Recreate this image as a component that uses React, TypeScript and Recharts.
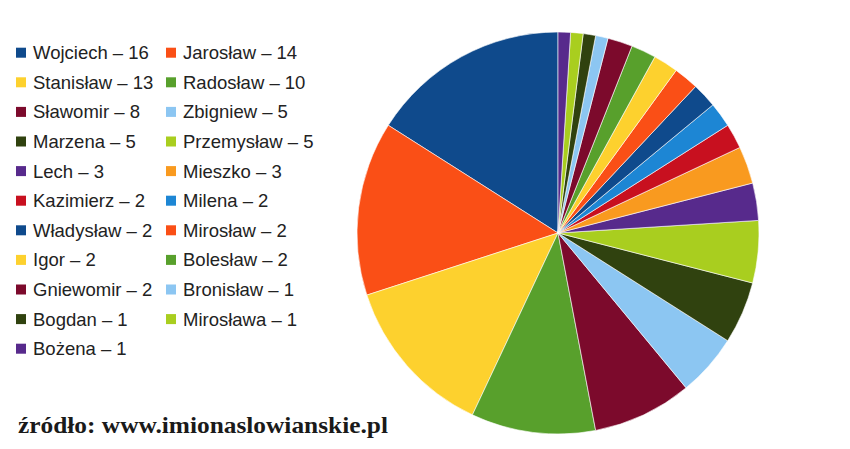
import React from "react";
import { PieChart, Pie, Cell } from "recharts";

const names = [
  "Wojciech", "Jarosław", "Stanisław", "Radosław", "Sławomir", "Zbigniew",
  "Marzena", "Przemysław", "Lech", "Mieszko", "Kazimierz", "Milena",
  "Władysław", "Mirosław", "Igor", "Bolesław", "Gniewomir", "Bronisław",
  "Bogdan", "Mirosława", "Bożena",
];
const values = [16, 14, 13, 10, 8, 5, 5, 5, 3, 3, 2, 2, 2, 2, 2, 2, 2, 1, 1, 1, 1];
const palette = [
  "#0F4A8C", "#FA4F16", "#FDD12E", "#58A02C", "#7C0A2C", "#8CC6F2",
  "#30420F", "#A9CE1F", "#572A8C", "#F99A1F", "#C8101F", "#1D86D4",
];
const sourceText = "źródło: www.imionaslowianskie.pl";

const data = names.map((n, i) => ({ name: n, value: values[i] }));

function LegendOverlay() {
  return (
    <svg width={400} height={449} style={{ position: "absolute", left: 0, top: 0 }}>
      {data.map((d, i) => {
        const col = i % 2;
        const row = Math.floor(i / 2);
        const x = col === 0 ? 16 : 166;
        const y = 52.7 + row * 29.6;
        return (
          <g key={d.name}>
            <rect x={x} y={y - 5} width={10} height={10} fill={palette[i % palette.length]} />
            <text
              x={x + 17}
              y={y}
              dominantBaseline="central"
              fontFamily="'Liberation Sans', Arial, sans-serif"
              fontSize={18.5}
              fill="#222"
            >
              {`${d.name} – ${d.value}`}
            </text>
          </g>
        );
      })}
      <text
        x={18}
        y={425}
        dominantBaseline="central"
        fontFamily="'Liberation Serif', 'Times New Roman', serif"
        fontWeight="bold"
        fontSize={24}
        textLength={370}
        lengthAdjust="spacingAndGlyphs"
        fill="#1a1a1a"
      >
        {sourceText}
      </text>
    </svg>
  );
}

export default function App() {
  return (
    <div style={{ position: "absolute", left: 0, top: 0, width: 850, height: 449, background: "#fff" }}>
      <PieChart width={850} height={449} margin={{ top: 0, right: 0, bottom: 0, left: 0 }}>
        <Pie
          data={data}
          dataKey="value"
          nameKey="name"
          cx={558}
          cy={233}
          outerRadius={201}
          startAngle={90}
          endAngle={450}
          stroke="#ffffff"
          strokeWidth={0.6}
          isAnimationActive={false}
        >
          {data.map((d, i) => (
            <Cell key={d.name} fill={palette[i % palette.length]} />
          ))}
        </Pie>
      </PieChart>
      <LegendOverlay />
    </div>
  );
}
